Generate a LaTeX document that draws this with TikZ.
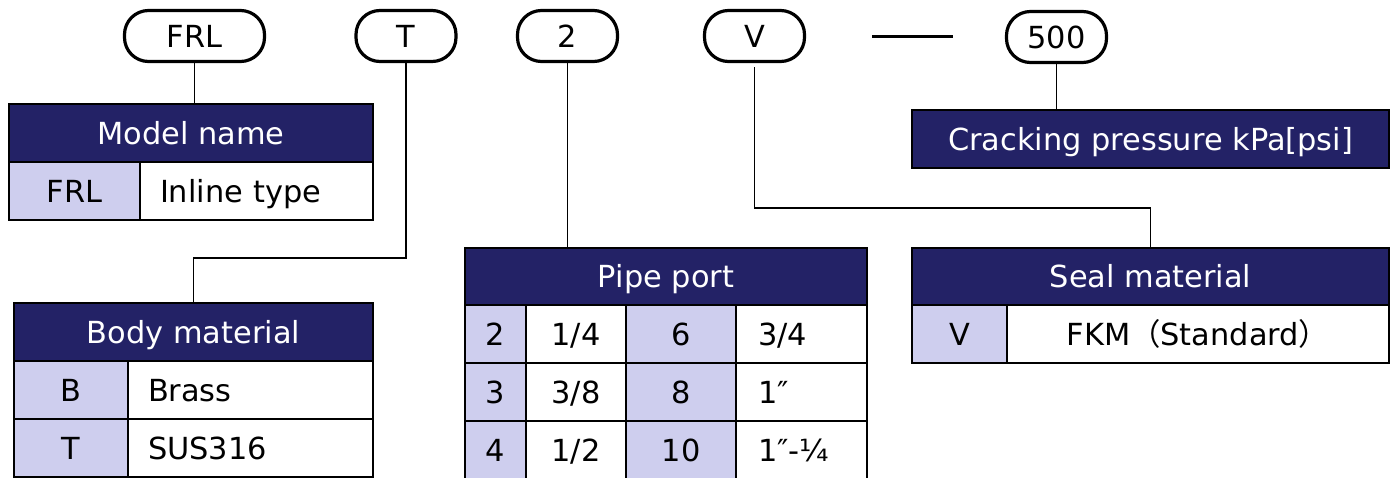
\documentclass[tikz,border=0pt]{standalone}
\usepackage{fontspec}
\setmainfont{DejaVu Sans}
\newfontfamily\cjkfont{Noto Sans CJK JP}

\definecolor{hdblue}{RGB}{35,34,102}
\definecolor{keylav}{RGB}{206,206,238}
\newcommand{\tabfont}{\fontsize{15.2pt}{18pt}\selectfont}

\tikzset{
  codebox/.style={draw, line width=1.6pt, rounded corners=12pt, minimum height=25.5pt, inner sep=0pt, text height=11pt, text depth=0pt},
  cellbase/.style={draw, line width=1pt, inner sep=0pt, text height=11pt, text depth=0pt, minimum height=29pt},
  headcell/.style={cellbase, fill=hdblue, text=white},
  keycell/.style={cellbase, fill=keylav},
  valcell/.style={cellbase, fill=white},
  link/.style={line width=0.7pt},
}

\begin{document}
\begin{tikzpicture}[x=0.5pt, y=-0.5pt, every node/.style={font=\tabfont}]
\useasboundingbox (0,0) rectangle (1391,477);

% code boxes
\node[codebox, minimum width=70pt] (frl) at (194.5,36) {FRL};
\node[codebox, minimum width=50pt] (tc) at (406,36) {T};
\node[codebox, minimum width=50pt] (pc) at (567.5,36) {2};
\node[codebox, minimum width=50pt] (vc) at (754.5,36) {V};
\draw[line width=1.5pt] (872,36) -- (953,36);
\node[codebox, minimum width=50pt] (pr) at (1056.5,37) {500};

% model name
\node[headcell, minimum width=182pt] (mname) at (191,133) {Model name};
\node[keycell, minimum width=65.5pt] (mn-k) at (74.5,191) {FRL};
\node[valcell, minimum width=116.5pt, text width=96.5pt, inner xsep=10pt] (mn-v) at (256.5,191) {Inline type};

% body material
\node[headcell, minimum width=179.5pt] (bmat) at (193.5,332) {Body material};
\node[keycell, minimum width=57pt] (bm-k1) at (71,390) {B};
\node[valcell, minimum width=122.5pt, text width=102.5pt, inner xsep=10pt] (bm-v1) at (250.5,390) {Brass};
\node[keycell, minimum width=57pt] (bm-k2) at (71,448) {T};
\node[valcell, minimum width=122.5pt, text width=102.5pt, inner xsep=10pt] (bm-v2) at (250.5,448) {SUS316};

% pipe port
\node[headcell, minimum width=201pt, minimum height=28.5pt] (pport) at (666,276.5) {Pipe port};
\node[keycell, minimum width=30.5pt] (pp-k1) at (495.5,334) {2};
\node[valcell, minimum width=50pt] (pp-v1) at (576,334) {1/4};
\node[keycell, minimum width=55pt] (pp-k4) at (681,334) {6};
\node[valcell, minimum width=65.5pt, text width=43.5pt, inner xsep=11pt] (pp-v4) at (801.5,334) {3/4};
\node[keycell, minimum width=30.5pt] (pp-k2) at (495.5,392) {3};
\node[valcell, minimum width=50pt] (pp-v2) at (576,392) {3/8};
\node[keycell, minimum width=55pt] (pp-k5) at (681,392) {8};
\node[valcell, minimum width=65.5pt, text width=43.5pt, inner xsep=11pt] (pp-v5) at (801.5,392) {1″};
\node[keycell, minimum width=30.5pt] (pp-k3) at (495.5,450) {4};
\node[valcell, minimum width=50pt] (pp-v3) at (576,450) {1/2};
\node[keycell, minimum width=55pt] (pp-k6) at (681,450) {10};
\node[valcell, minimum width=65.5pt, text width=43.5pt, inner xsep=11pt] (pp-v6) at (801.5,450) {1″-¼};

% cracking pressure
\node[headcell, minimum width=238.5pt] (cpres) at (1150.5,139) {Cracking pressure kPa[psi]};

% seal material
\node[headcell, minimum width=238.5pt, minimum height=28.5pt] (smat) at (1150.5,276.5) {Seal material};
\node[keycell, minimum width=47.5pt] (sm-k) at (959.5,334) {V};
\node[valcell, minimum width=191pt] (sm-v) at (1198,334) {FKM{\cjkfont （}Standard{\cjkfont ）}};

% connectors
\coordinate (tknee) at (405,258);
\coordinate (vknee) at (754,208);
\draw[link] (frl.south) -- (frl.south |- mname.north);
\draw[link] (tc.south) -- (tc.south |- tknee) -| (bmat.north);
\draw[link] (pc.south) -- (pc.south |- pport.north);
\draw[link, shorten <=2pt] (vc.south) -- (vc.south |- vknee) -| (smat.north);
\draw[link] (pr.south) -- (pr.south |- cpres.north);
\end{tikzpicture}
\end{document}
